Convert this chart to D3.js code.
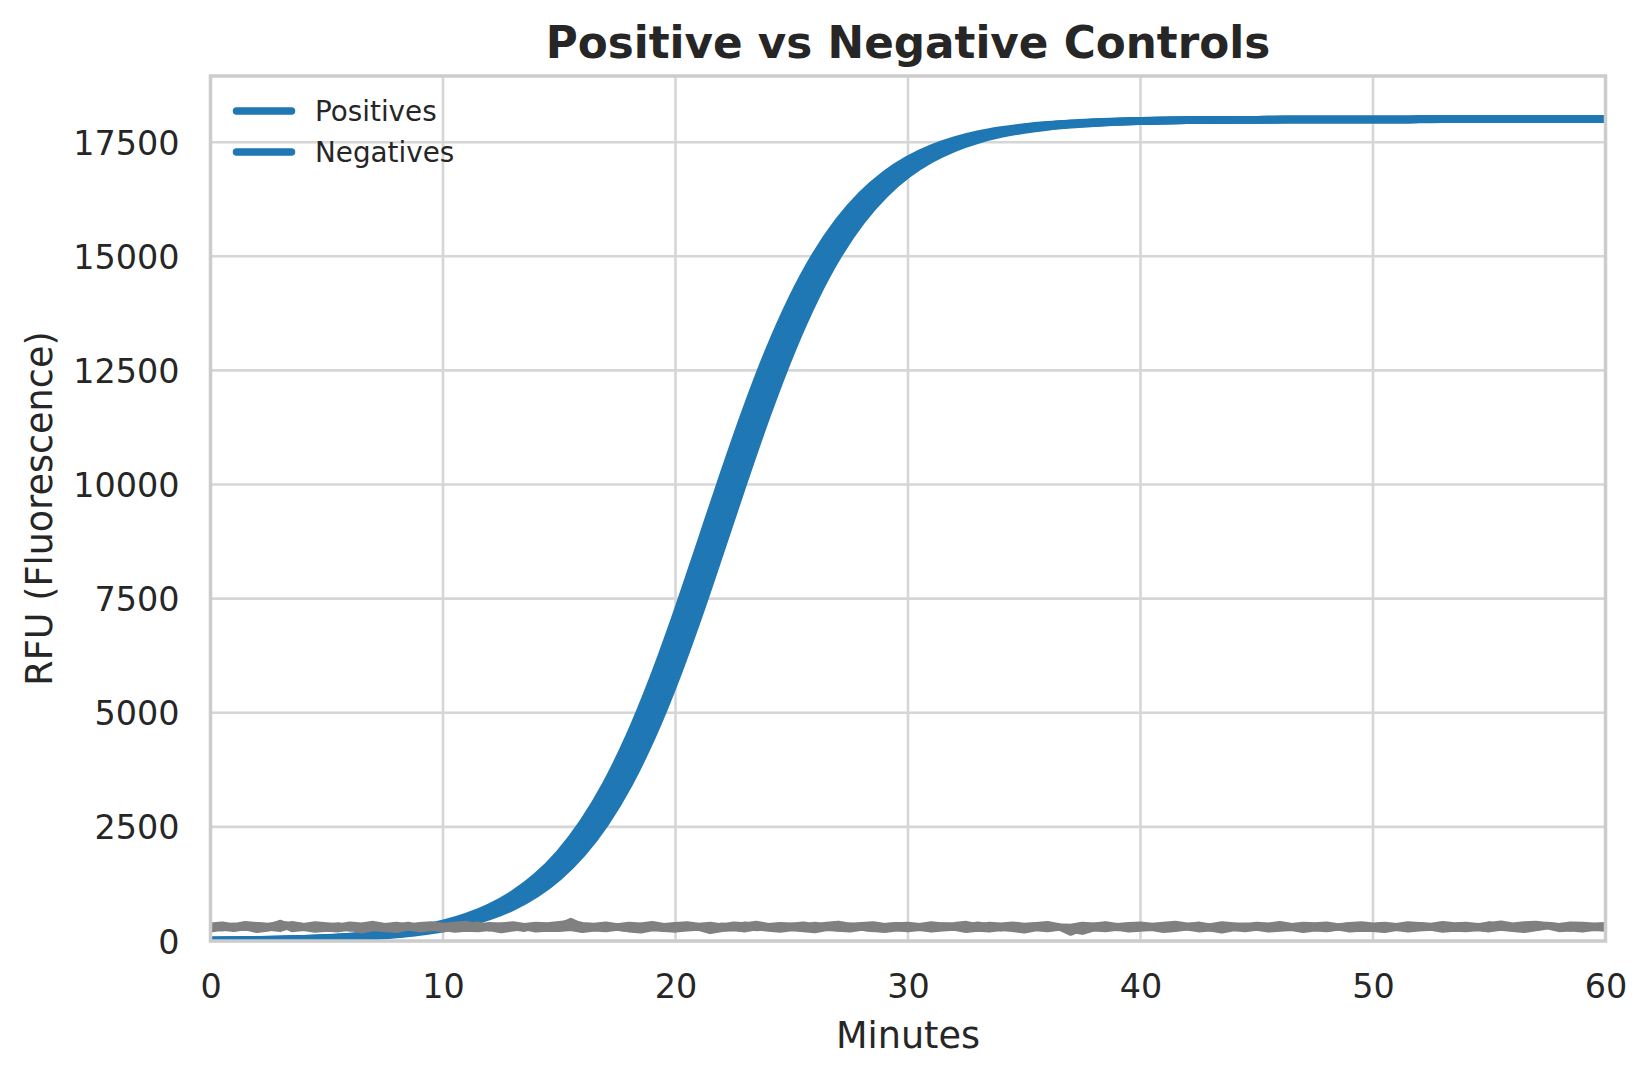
<!DOCTYPE html>
<html>
<head>
<meta charset="utf-8">
<script src="https://cdn.jsdelivr.net/npm/d3@7"></script>
<style>
  html, body { margin: 0; padding: 0; background: #ffffff; }
  svg { display: block; font-family: "DejaVu Sans", sans-serif; }
</style>
</head>
<body>
<svg id="chart" width="1649" height="1083"></svg>
<script>
// ---------- DATA ----------
const title = "Positive vs Negative Controls";
const xLabel = "Minutes";
const yLabel = "RFU (Fluorescence)";
const legendLabels = ["Positives", "Negatives"];
const xTicks = [0, 10, 20, 30, 40, 50, 60];
const yTicks = [0, 2500, 5000, 7500, 10000, 12500, 15000, 17500];

// positive controls: one value per minute, 0..60
const posMinutes = d3.range(0, 61);
const positive1 = [
  13, 18, 26, 36, 51, 71, 100, 141, 197, 275,
  384, 535, 743, 1027, 1410, 1920, 2586, 3434, 4479, 5716,
  7116, 8618, 10141, 11601, 12926, 14069, 15014, 15768, 16352, 16795,
  17126, 17369, 17546, 17675, 17767, 17834, 17881, 17915, 17940, 17957,
  17969, 17978, 17984, 17989, 17992, 17994, 17996, 17997, 17998, 17999,
  17999, 17999, 18000, 18000, 18000, 18000, 18000, 18000, 18000, 18000,
  18000];
const positive2 = [
  12, 17, 24, 33, 47, 66, 92, 129, 181, 253,
  354, 493, 685, 948, 1304, 1779, 2404, 3204, 4199, 5390,
  6753, 8237, 9763, 11247, 12610, 13801, 14796, 15596, 16221, 16696,
  17052, 17315, 17507, 17646, 17747, 17819, 17871, 17908, 17934, 17953,
  17967, 17976, 17983, 17988, 17991, 17994, 17996, 17997, 17998, 17998,
  17999, 17999, 18000, 18000, 18000, 18000, 18000, 18000, 18000, 18000,
  18000];
const positive3 = [
  11, 16, 22, 31, 43, 60, 85, 119, 166, 233,
  325, 454, 631, 874, 1205, 1648, 2232, 2986, 3931, 5074,
  6399, 7859, 9382, 10884, 12284, 13521, 14566, 15414, 16080, 16590,
  16973, 17257, 17465, 17616, 17725, 17803, 17859, 17900, 17929, 17949,
  17964, 17974, 17982, 17987, 17991, 17993, 17995, 17997, 17998, 17998,
  17999, 17999, 18000, 18000, 18000, 18000, 18000, 18000, 18000, 18000,
  18000];
const positive4 = [
  10, 14, 20, 28, 40, 55, 78, 109, 153, 214,
  299, 418, 581, 806, 1112, 1525, 2071, 2780, 3676, 4770,
  6053, 7485, 9000, 10515, 11947, 13230, 14324, 15220, 15929, 16475,
  16888, 17194, 17419, 17582, 17701, 17786, 17847, 17891, 17922, 17945,
  17960, 17972, 17980, 17986, 17990, 17993, 17995, 17996, 17997, 17998,
  17999, 17999, 18000, 18000, 18000, 18000, 18000, 18000, 18000, 18000,
  18000];
const positive5 = [
  9, 13, 18, 26, 36, 51, 71, 100, 141, 197,
  275, 384, 535, 743, 1027, 1410, 1920, 2586, 3434, 4479,
  5716, 7116, 8618, 10141, 11601, 12926, 14069, 15014, 15768, 16352,
  16795, 17126, 17369, 17546, 17675, 17767, 17834, 17881, 17915, 17940,
  17957, 17969, 17978, 17984, 17989, 17992, 17994, 17996, 17997, 17998,
  17999, 17999, 17999, 18000, 18000, 18000, 18000, 18000, 18000, 18000,
  18000];

// negative controls: one value every half minute, 0..60
const negMinutes = d3.range(0, 121).map(i => i / 2);
const negative1 = [
  310, 285, 330, 295, 340, 300, 275, 360, 320, 290,
  305, 335, 280, 300, 325, 270, 310, 345, 295, 315,
  260, 320, 300, 350, 285, 330, 310, 275, 340, 300,
  320, 430, 310, 290, 335, 300, 270, 325, 310, 285,
  340, 295, 310, 260, 330, 305, 350, 290, 315, 280,
  325, 300, 345, 310, 285, 330, 300, 270, 320, 340,
  295, 310, 280, 335, 305, 290, 350, 315, 285, 320,
  300, 330, 275, 310, 190, 300, 325, 345, 290, 310,
  335, 300, 280, 320, 305, 350, 290, 270, 315, 330,
  300, 285, 340, 310, 295, 325, 280, 300, 335, 315,
  290, 305, 320, 275, 340, 300, 310, 285, 330, 295,
  360, 310, 290, 325, 300, 345, 315, 285, 330, 300,
  310];
const negative2 = [
  260, 300, 275, 310, 250, 285, 390, 270, 295, 255,
  280, 265, 300, 240, 290, 275, 250, 305, 265, 290,
  300, 255, 280, 270, 295, 245, 285, 310, 260, 280,
  275, 295, 250, 285, 270, 300, 265, 240, 290, 275,
  260, 285, 300, 230, 275, 290, 265, 310, 280, 255,
  290, 270, 245, 295, 280, 260, 300, 275, 250, 285,
  270, 295, 260, 285, 300, 250, 280, 265, 295, 275,
  240, 290, 270, 300, 255, 210, 285, 270, 300, 260,
  280, 295, 250, 275, 305, 265, 285, 240, 290, 270,
  300, 260, 280, 295, 250, 285, 270, 305, 260, 280,
  275, 250, 295, 265, 285, 300, 255, 280, 270, 290,
  265, 300, 275, 250, 290, 330, 270, 285, 260, 295,
  280];
const negative3 = [
  330, 350, 315, 360, 340, 325, 370, 345, 320, 355,
  335, 310, 350, 330, 365, 320, 345, 300, 340, 355,
  325, 345, 365, 315, 340, 330, 355, 320, 345, 335,
  360, 390, 340, 325, 350, 315, 345, 330, 360, 320,
  340, 355, 325, 345, 310, 350, 335, 365, 320, 340,
  330, 350, 315, 345, 370, 325, 340, 355, 320, 335,
  345, 320, 355, 330, 340, 365, 315, 345, 330, 350,
  325, 340, 360, 315, 300, 345, 330, 355, 320, 340,
  350, 325, 345, 365, 330, 340, 315, 355, 335, 320,
  345, 330, 360, 320, 345, 335, 350, 315, 340, 355,
  330, 345, 320, 355, 340, 325, 360, 335, 345, 320,
  340, 375, 330, 355, 365, 340, 320, 350, 345, 330,
  340];

const positives = [positive1, positive2, positive3, positive4, positive5];
const negatives = [negative1, negative2, negative3];

// ---------- LAYOUT ----------
const W = 1649, H = 1083;
const plot = { left: 210.5, right: 1605.5, top: 76, bottom: 941 };
const textColor = "#262626";
const blue = "#1f77b4";
const gray = "#808080";

const svg = d3.select("#chart");
svg.append("rect").attr("width", W).attr("height", H).attr("fill", "#ffffff");

const x = d3.scaleLinear().domain([0, 60]).range([plot.left, plot.right]);
const y = d3.scaleLinear().domain([0, 18950]).range([plot.bottom, plot.top]);

// grid
const grid = svg.append("g");
grid.selectAll("line.vx").data(xTicks).enter().append("line")
  .attr("x1", d => x(d)).attr("x2", d => x(d))
  .attr("y1", plot.top).attr("y2", plot.bottom)
  .attr("stroke", "#d6d6d6").attr("stroke-width", 2.6);
grid.selectAll("line.hy").data(yTicks).enter().append("line")
  .attr("x1", plot.left).attr("x2", plot.right)
  .attr("y1", d => y(d)).attr("y2", d => y(d))
  .attr("stroke", "#d6d6d6").attr("stroke-width", 2.6);

// clip
svg.append("defs").append("clipPath").attr("id", "clip")
  .append("rect").attr("x", plot.left).attr("y", plot.top)
  .attr("width", plot.right - plot.left).attr("height", plot.bottom - plot.top);

const lines = svg.append("g").attr("clip-path", "url(#clip)");

const posLine = d3.line()
  .x((d, i) => x(posMinutes[i]))
  .y(d => y(d))
  .curve(d3.curveMonotoneX);
positives.forEach(series => {
  lines.append("path").datum(series)
    .attr("d", posLine)
    .attr("fill", "none").attr("stroke", blue)
    .attr("stroke-width", 7.5).attr("stroke-linejoin", "round");
});

const negLine = d3.line()
  .x((d, i) => x(negMinutes[i]))
  .y(d => y(d));
negatives.forEach(series => {
  lines.append("path").datum(series)
    .attr("d", negLine)
    .attr("fill", "none").attr("stroke", gray)
    .attr("stroke-width", 7).attr("stroke-linejoin", "round");
});

// spines
svg.append("rect")
  .attr("x", plot.left).attr("y", plot.top)
  .attr("width", plot.right - plot.left).attr("height", plot.bottom - plot.top)
  .attr("fill", "none").attr("stroke", "#cccccc").attr("stroke-width", 3.5);

// axes via d3 axis generators (no tick marks)
const xAxis = d3.axisBottom(x).tickValues(xTicks).tickSize(0).tickPadding(0).tickFormat(d3.format("d"));
const gx = svg.append("g").attr("transform", `translate(0,${plot.bottom})`).call(xAxis);
gx.select(".domain").remove();
gx.selectAll("text")
  .attr("y", 57).attr("dy", null)
  .attr("font-size", 33.4).attr("fill", textColor)
  .attr("font-family", "DejaVu Sans, sans-serif");

const yAxis = d3.axisLeft(y).tickValues(yTicks).tickSize(0).tickPadding(0).tickFormat(d3.format("d"));
const gy = svg.append("g").attr("transform", `translate(${plot.left},0)`).call(yAxis);
gy.select(".domain").remove();
gy.selectAll("text")
  .attr("x", -31).attr("dy", "0.36em")
  .attr("font-size", 33.4).attr("fill", textColor)
  .attr("font-family", "DejaVu Sans, sans-serif");

// labels
svg.append("text")
  .attr("x", (plot.left + plot.right) / 2).attr("y", 58)
  .attr("text-anchor", "middle").attr("font-weight", "bold")
  .attr("font-size", 43.7).attr("fill", textColor).text(title);

svg.append("text")
  .attr("x", (plot.left + plot.right) / 2).attr("y", 1048)
  .attr("text-anchor", "middle")
  .attr("font-size", 36.6).attr("fill", textColor).text(xLabel);

svg.append("text")
  .attr("transform", `translate(39,${(plot.top + plot.bottom) / 2}) rotate(-90)`)
  .attr("text-anchor", "middle").attr("dy", "0.36em")
  .attr("font-size", 36.6).attr("fill", textColor).text(yLabel);

// legend (both entries drawn in blue, as in the reference)
const legend = svg.append("g");
legendLabels.forEach((lab, i) => {
  const cy = 111 + i * 41;
  legend.append("line")
    .attr("x1", 236.5).attr("x2", 291.5).attr("y1", cy).attr("y2", cy)
    .attr("stroke", blue).attr("stroke-width", 7.5).attr("stroke-linecap", "round");
  legend.append("text")
    .attr("x", 315).attr("y", cy).attr("dy", "0.36em")
    .attr("font-size", 27.8).attr("fill", textColor).text(lab);
});
</script>
</body>
</html>
